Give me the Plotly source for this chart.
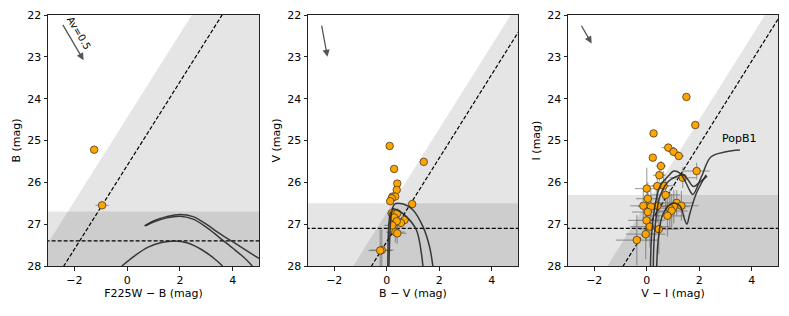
import plotly.graph_objects as go

# ---------------- data ----------------
# panel 1: B vs F225W-B
p1_x = [-1.25, -0.95]
p1_y = [25.22, 26.55]
p1_xerr = [0.03, 0.25]
p1_yerr = [0.02, 0.05]

# panel 2: V vs B-V
p2_x = [0.11, 0.28, 1.41, 0.40, 0.38, 0.22, 0.32, 0.19, 0.13, 0.97, 0.19, 0.40,
        0.28, 0.68, 0.54, 0.38, 0.21, 0.33, 0.40, -0.19, -0.25]
p2_y = [25.13, 25.68, 25.51, 26.03, 26.18, 26.34, 26.34, 26.38, 26.45, 26.52, 26.74, 26.74,
        26.84, 26.90, 26.97, 26.93, 27.03, 27.19, 27.22, 27.62, 27.63]
p2_xerr = [0.05, 0.05, 0.08, 0.08, 0.10, 0.10, 0.10, 0.12, 0.12, 0.10, 0.18, 0.18,
           0.22, 0.18, 0.18, 0.25, 0.30, 0.35, 0.35, 0.45, 0.45]
p2_yerr = [0.03, 0.04, 0.05, 0.06, 0.08, 0.08, 0.08, 0.10, 0.10, 0.08, 0.12, 0.12,
           0.15, 0.12, 0.12, 0.15, 0.20, 0.25, 0.25, 0.50, 0.50]

# panel 3: I vs V-I
p3_x = [1.51, 1.85, 0.26, 0.82, 1.02, 1.22, 0.23, 0.54, 0.48, 1.90, 1.37, 0.00,
        0.64, 0.40, 0.04, 0.72, -0.13, 0.40, 0.16, 1.14, 1.32, 1.03, 0.88, 0.95,
        0.79, 0.04, -0.01, 0.12, 0.46, -0.04, -0.38]
p3_y = [23.96, 24.63, 24.83, 25.17, 25.27, 25.37, 25.41, 25.61, 25.83, 25.73, 25.89, 26.15,
        26.08, 26.09, 26.39, 26.30, 26.56, 26.56, 26.58, 26.49, 26.56, 26.58, 26.62, 26.68,
        26.80, 26.71, 26.91, 27.06, 27.12, 27.24, 27.38]
p3_xerr = [0.05, 0.08, 0.06, 0.25, 0.20, 0.20, 0.08, 0.20, 0.25, 0.50, 0.50, 0.45,
           0.45, 0.45, 0.45, 0.55, 0.50, 0.55, 0.50, 0.65, 0.65, 0.60, 0.60, 0.60,
           0.65, 0.60, 0.70, 0.75, 0.75, 0.75, 0.80]
p3_yerr = [0.03, 0.05, 0.04, 0.10, 0.10, 0.10, 0.05, 0.12, 0.15, 0.20, 0.25, 0.50,
           0.35, 0.35, 0.40, 0.40, 0.35, 0.40, 0.40, 0.30, 0.35, 0.40, 0.45, 0.40,
           0.50, 0.45, 0.50, 0.50, 0.60, 0.60, 0.60]

# completeness limits: shaded (mag + colour = const), dashed diagonal, shaded band, dashed horizontal
diag_shade = [24.45, 26.72, 26.50]
diag_dash = [25.60, 27.42, 27.10]
band_lim = [26.70, 26.50, 26.30]
h_dash = [27.40, 27.10, 27.10]

# isochrones
iso1 = [
    ([0.66, 1.0, 1.5, 2.0, 2.5, 3.0, 3.5, 4.0, 4.5, 5.0],
     [27.04, 26.92, 26.82, 26.77, 26.82, 27.00, 27.22, 27.42, 27.62, 27.82]),
    ([0.70, 1.0, 1.5, 2.0, 2.5, 3.0, 3.5, 4.0, 4.4, 4.75],
     [27.04, 26.95, 26.85, 26.81, 26.88, 27.07, 27.32, 27.57, 27.78, 28.0]),
    ([-0.2, 0.3, 0.8, 1.3, 1.8, 2.3, 2.8, 3.3, 3.62],
     [28.0, 27.75, 27.55, 27.44, 27.40, 27.45, 27.60, 27.82, 28.0]),
]
iso2 = [
    ([0.08, 0.10, 0.13, 0.18, 0.30, 0.63, 1.00, 1.38, 1.63, 1.76],
     [28.05, 27.60, 27.10, 26.75, 26.52, 26.52, 26.66, 27.06, 27.54, 28.02]),
    ([0.20, 0.45, 0.75, 1.13, 1.32, 1.38],
     [26.62, 26.68, 26.82, 27.14, 27.70, 28.02]),
    ([0.04, 0.05, 0.08, 0.14],
     [28.05, 27.50, 27.00, 26.70]),
]
iso3 = [
    ([0.14, 0.19, 0.31, 0.50, 0.82, 1.03, 1.26, 1.47, 1.66, 1.76, 2.08, 2.45, 3.02, 3.55],
     [28.0, 27.22, 26.58, 26.10, 25.85, 25.73, 25.78, 25.98, 26.22, 26.29, 25.87, 25.39, 25.27, 25.23]),
    ([0.25, 0.30, 0.50, 0.82, 1.13, 1.38, 1.57, 1.78, 2.05, 2.30],
     [28.0, 27.20, 26.34, 25.98, 25.86, 25.82, 25.94, 26.10, 25.98, 25.85]),
    ([0.38, 0.45, 0.63, 1.00, 1.26, 1.45, 1.53, 1.64, 1.89, 2.26],
     [28.0, 27.30, 26.74, 26.50, 26.56, 26.90, 27.00, 26.75, 26.26, 25.82]),
]

# reddening arrows (start, end)
arrows = [((-2.47, 22.20), (-1.65, 23.08)),
          ((-2.49, 22.22), (-2.26, 23.00)),
          ((-2.52, 22.22), (-2.10, 22.68))]

x_titles = ["F225W − B (mag)", "B − V (mag)", "V − I (mag)"]
y_titles = ["B (mag)", "V (mag)", "I (mag)"]
x_ticks = [-2, 0, 2, 4]
y_ticks = [22, 23, 24, 25, 26, 27, 28]

# ---------------- figure ----------------
W, H = 789, 316
xdoms = [(48, 259), (308, 518), (568, 778)]
ytop, ybot = 15, 266
XMIN, XMAX = -3, 5
YMIN, YMAX = 22, 28

fig = go.Figure()
points = [(p1_x, p1_y, p1_xerr, p1_yerr), (p2_x, p2_y, p2_xerr, p2_yerr), (p3_x, p3_y, p3_xerr, p3_yerr)]
isos = [iso1, iso2, iso3]
FONT = "DejaVu Sans"

for i in range(3):
    xa = "x" if i == 0 else f"x{i+1}"
    ya = "y" if i == 0 else f"y{i+1}"
    # diagonal shaded region
    L = diag_shade[i]
    fig.add_trace(go.Scatter(x=[L - 28.5, L - 21.5, 6, 6], y=[28.5, 21.5, 21.5, 28.5],
                             mode="lines", fill="toself", fillcolor="rgba(0,0,0,0.1)",
                             line=dict(width=0), hoverinfo="skip", showlegend=False,
                             xaxis=xa, yaxis=ya))
    # horizontal band
    fig.add_trace(go.Scatter(x=[-4, 6, 6, -4], y=[band_lim[i], band_lim[i], 28.5, 28.5],
                             mode="lines", fill="toself", fillcolor="rgba(0,0,0,0.1)",
                             line=dict(width=0), hoverinfo="skip", showlegend=False,
                             xaxis=xa, yaxis=ya))
    # dashed lines
    D = diag_dash[i]
    fig.add_trace(go.Scatter(x=[D - 28.5, D - 21.5], y=[28.5, 21.5], mode="lines",
                             line=dict(color="black", width=1.2, dash="4px,2px"),
                             hoverinfo="skip", showlegend=False, xaxis=xa, yaxis=ya))
    fig.add_trace(go.Scatter(x=[-4, 6], y=[h_dash[i], h_dash[i]], mode="lines",
                             line=dict(color="black", width=1.2, dash="4px,2px"),
                             hoverinfo="skip", showlegend=False, xaxis=xa, yaxis=ya))
    # points with error bars
    px, py, pxe, pye = points[i]
    fig.add_trace(go.Scatter(x=px, y=py, mode="markers",
                             marker=dict(size=7.5, color="#FFA500", line=dict(color="#4a3a20", width=0.8)),
                             error_x=dict(type="data", array=pxe, color="rgba(95,95,95,0.55)", thickness=1.2, width=0),
                             error_y=dict(type="data", array=pye, color="rgba(95,95,95,0.55)", thickness=1.2, width=0),
                             showlegend=False, xaxis=xa, yaxis=ya, cliponaxis=True))
    # isochrones
    for cx, cy in isos[i]:
        fig.add_trace(go.Scatter(x=cx, y=cy, mode="lines", line=dict(color="rgba(40,40,40,0.9)", width=1.5, shape="spline"),
                                 hoverinfo="skip", showlegend=False, xaxis=xa, yaxis=ya))

    x0, x1 = xdoms[i]
    axis_common = dict(showline=True, mirror=True, linecolor="#222", linewidth=1,
                       ticks="outside", ticklen=3.5, tickwidth=0.8, tickcolor="#222",
                       showgrid=False, zeroline=False, automargin=False,
                       tickfont=dict(family=FONT, size=11, color="black"))
    fig.layout[("xaxis" if i == 0 else f"xaxis{i+1}")] = dict(
        domain=[x0 / W, x1 / W], range=[XMIN, XMAX], anchor=ya, tickvals=x_ticks,
        ticktext=[str(v).replace("-", "−") for v in x_ticks],
        title=dict(text=x_titles[i], font=dict(family=FONT, size=11, color="black"), standoff=3),
        **axis_common)
    fig.layout[("yaxis" if i == 0 else f"yaxis{i+1}")] = dict(
        domain=[1 - ybot / H, 1 - ytop / H], range=[YMAX, YMIN], anchor=xa, tickvals=y_ticks,
        title=dict(text=y_titles[i], font=dict(family=FONT, size=11, color="black"), standoff=4),
        **axis_common)

    (sx, sy), (ex, ey) = arrows[i]
    fig.add_annotation(x=ex, y=ey, ax=sx, ay=sy, xref=xa, yref=ya, axref=xa, ayref=ya,
                       showarrow=True, arrowhead=2, arrowsize=1.1, arrowwidth=1.3,
                       arrowcolor="#555", text="")

fig.add_annotation(x=-1.84, y=22.42, xref="x", yref="y", text="Av=0.5", showarrow=False,
                   textangle=59, font=dict(family=FONT, size=10, color="black"))
fig.add_annotation(x=3.55, y=24.95, xref="x3", yref="y3", text="PopB1", showarrow=False,
                   font=dict(family=FONT, size=11, color="black"))

fig.update_layout(width=W, height=H, margin=dict(l=0, r=0, t=0, b=0),
                  paper_bgcolor="white", plot_bgcolor="white",
                  font=dict(family=FONT, size=11, color="black"))

fig.write_html("out.html", config={"displayModeBar": False},
               post_script="document.body.style.margin='0px';document.body.style.overflow='hidden';")
